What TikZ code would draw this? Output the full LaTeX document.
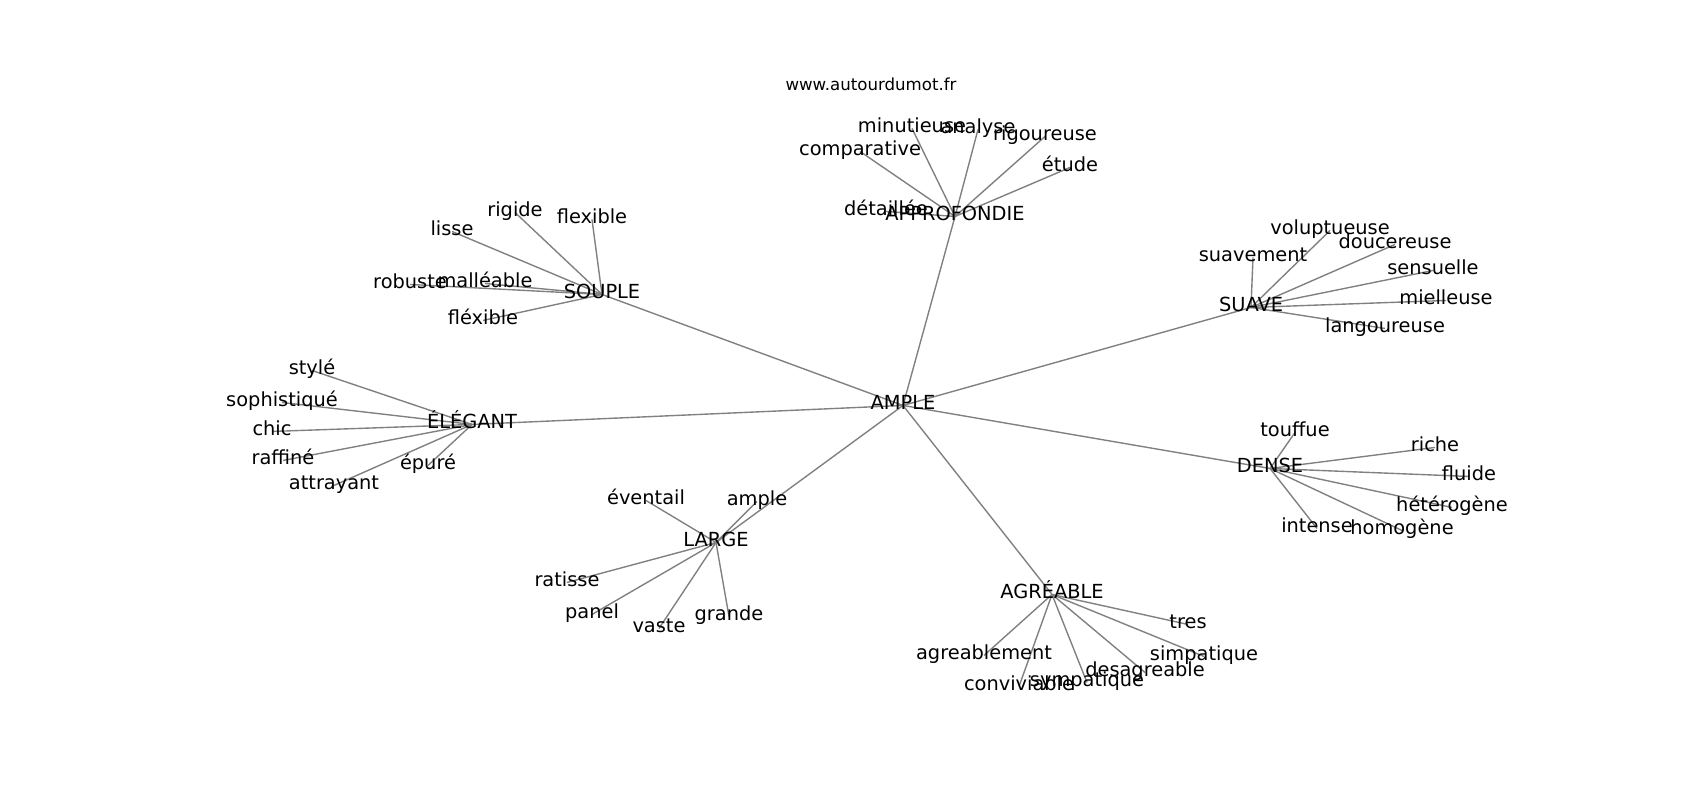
\documentclass[tikz,border=0pt]{standalone}
\usepackage{fontspec}
\setmainfont{DejaVu Sans}
\usetikzlibrary{backgrounds}
\begin{document}
\begin{tikzpicture}[x=0.01in,y=-0.01in,
  word/.style={inner sep=0pt, yshift=-2.5pt, font=\fontsize{14pt}{16pt}\selectfont, text height=0.76em, text depth=0.24em},
  title/.style={inner sep=0pt, yshift=-2.5pt, font=\fontsize{12pt}{14pt}\selectfont, text height=0.76em, text depth=0.24em},
  link/.style={draw=gray, line width=1pt}]
\useasboundingbox (0,0) rectangle (1700,800);
\node[title] (www) at (871,83) {www.autourdumot.fr};
% centre
\node[word] (ample0) at (903,402) {AMPLE};
% APPROFONDIE
\node[word] (appro) at (955,213) {APPROFONDIE};
\node[word] (comparative) at (860,148) {comparative};
\node[word] (minutieuse) at (912,125) {minutieuse};
\node[word] (analyse) at (978,126) {analyse};
\node[word] (rigoureuse) at (1045,133) {rigoureuse};
\node[word] (etude) at (1070,164) {étude};
\node[word] (detaillee) at (886,208) {détaillée};
% SOUPLE
\node[word] (souple) at (602,291) {SOUPLE};
\node[word] (rigide) at (515,209) {rigide};
\node[word] (flexible) at (592,216) {flexible};
\node[word] (lisse) at (452,228) {lisse};
\node[word] (robuste) at (410,281) {robuste};
\node[word] (malleable) at (485,280) {malléable};
\node[word] (flexible2) at (483,317) {fléxible};
% ELEGANT
\node[word] (elegant) at (472,421) {ÉLÉGANT};
\node[word] (style) at (312,367) {stylé};
\node[word] (sophistique) at (282,399) {sophistiqué};
\node[word] (chic) at (272,428) {chic};
\node[word] (raffine) at (283,457) {raffiné};
\node[word] (epure) at (428,462) {épuré};
\node[word] (attrayant) at (334,482) {attrayant};
% LARGE
\node[word] (large) at (716,539) {LARGE};
\node[word] (eventail) at (646,497) {éventail};
\node[word] (ample1) at (757,498) {ample};
\node[word] (ratisse) at (567,579) {ratisse};
\node[word] (panel) at (592,611) {panel};
\node[word] (vaste) at (659,625) {vaste};
\node[word] (grande) at (729,613) {grande};
% AGREABLE
\node[word] (agreable) at (1052,591) {AGRÉABLE};
\node[word] (tres) at (1188,621) {tres};
\node[word] (agreablement) at (984,652) {agreablement};
\node[word] (simpatique) at (1204,653) {simpatique};
\node[word] (desagreable) at (1145,669) {desagreable};
\node[word] (sympatique) at (1087,679) {sympatique};
\node[word] (conviviable) at (1019,683) {conviviable};
% SUAVE
\node[word] (suave) at (1251,304) {SUAVE};
\node[word] (voluptueuse) at (1330,227) {voluptueuse};
\node[word] (doucereuse) at (1395,241) {doucereuse};
\node[word] (suavement) at (1253,254) {suavement};
\node[word] (sensuelle) at (1433,267) {sensuelle};
\node[word] (mielleuse) at (1446,297) {mielleuse};
\node[word] (langoureuse) at (1385,325) {langoureuse};
% DENSE
\node[word] (dense) at (1270,465) {DENSE};
\node[word] (touffue) at (1295,429) {touffue};
\node[word] (riche) at (1435,444) {riche};
\node[word] (fluide) at (1469,473) {fluide};
\node[word] (heterogene) at (1452,504) {hétérogène};
\node[word] (intense) at (1317,525) {intense};
\node[word] (homogene) at (1402,527) {homogène};
\begin{scope}[on background layer]
\fill[white] (0,0) rectangle (1700,800);
\foreach \a in {appro,souple,elegant,large,agreable,suave,dense}
  \draw[link] (ample0.center) -- (\a.center);
\foreach \a in {comparative,minutieuse,analyse,rigoureuse,etude,detaillee}
  \draw[link] (appro.center) -- (\a.center);
\foreach \a in {rigide,flexible,lisse,robuste,malleable,flexible2}
  \draw[link] (souple.center) -- (\a.center);
\foreach \a in {style,sophistique,chic,raffine,epure,attrayant}
  \draw[link] (elegant.center) -- (\a.center);
\foreach \a in {eventail,ample1,ratisse,panel,vaste,grande}
  \draw[link] (large.center) -- (\a.center);
\foreach \a in {tres,agreablement,simpatique,desagreable,sympatique,conviviable}
  \draw[link] (agreable.center) -- (\a.center);
\foreach \a in {voluptueuse,doucereuse,suavement,sensuelle,mielleuse,langoureuse}
  \draw[link] (suave.center) -- (\a.center);
\foreach \a in {touffue,riche,fluide,heterogene,intense,homogene}
  \draw[link] (dense.center) -- (\a.center);
\end{scope}
\end{tikzpicture}
\end{document}
